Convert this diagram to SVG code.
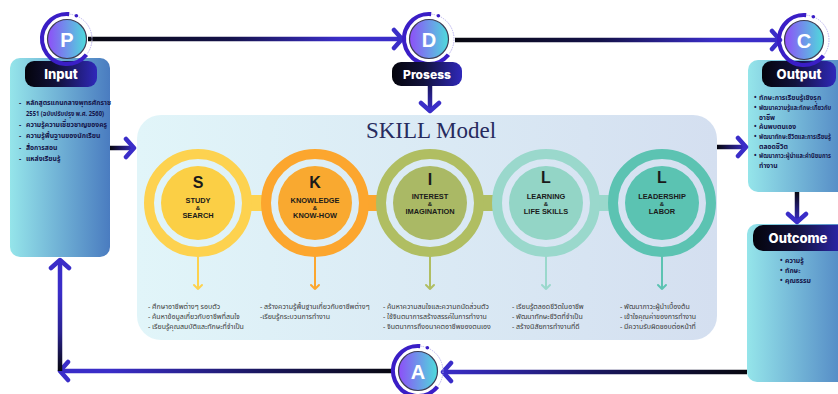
<svg xmlns="http://www.w3.org/2000/svg" xmlns:xlink="http://www.w3.org/1999/xlink" width="838" height="394" viewBox="0 0 838 394">
<defs>
<style>
.pillT{font-family:Inter,"Open Sans","Liberation Sans",sans-serif;font-weight:800;fill:#fff;text-anchor:middle}
.letter{font-family:"Liberation Sans",Arial,sans-serif;font-weight:700;fill:#fff;text-anchor:middle}
.sk{font-family:"Liberation Sans",Arial,sans-serif;font-weight:700;fill:#1a1a1a;text-anchor:middle}
.skL{font-size:16px}
.skS{font-size:7.4px}
.amp{font-size:6px}
.lst{font-family:"Noto Sans","Noto Sans Thai","Leelawadee UI",Tahoma,sans-serif;font-size:7px;fill:#3a3a3a}
.blst{font-family:"Noto Sans","Noto Sans Thai","Leelawadee UI",Tahoma,sans-serif;font-size:6.8px;font-weight:700;fill:#15154a}
.title{font-family:"Liberation Serif","Times New Roman",serif;font-size:23px;fill:#272b5e;text-anchor:middle}
.con{fill:none;stroke-width:4.5;stroke-linecap:butt}
</style>
<linearGradient id="boxGrad" x1="0" y1="0" x2="1" y2="0">
<stop offset="0" stop-color="#95e5ea"/><stop offset="1" stop-color="#4a7cc0"/>
</linearGradient>
<linearGradient id="pillGrad" x1="0" y1="0" x2="1" y2="0">
<stop offset="0" stop-color="#04040c"/><stop offset="0.45" stop-color="#12123c"/><stop offset="1" stop-color="#2f28ba"/>
</linearGradient>
<linearGradient id="circGrad" x1="0" y1="0" x2="1" y2="0">
<stop offset="0" stop-color="#8e4ef8"/><stop offset="1" stop-color="#4edcdb"/>
</linearGradient>
<linearGradient id="panelGrad" x1="0" y1="0" x2="1" y2="0">
<stop offset="0" stop-color="#e1f5f9"/><stop offset="1" stop-color="#d4dff0"/>
</linearGradient>
<linearGradient id="g1" gradientUnits="userSpaceOnUse" x1="88" y1="0" x2="402" y2="0">
<stop offset="0" stop-color="#07070f"/><stop offset="0.45" stop-color="#14124a"/><stop offset="0.8" stop-color="#3a2dc8"/>
</linearGradient>
<linearGradient id="g2" gradientUnits="userSpaceOnUse" x1="455" y1="0" x2="780" y2="0">
<stop offset="0" stop-color="#07070f"/><stop offset="0.45" stop-color="#14124a"/><stop offset="0.8" stop-color="#3a2dc8"/>
</linearGradient>
<linearGradient id="g3" gradientUnits="userSpaceOnUse" x1="0" y1="86" x2="0" y2="112">
<stop offset="0" stop-color="#1a1760"/><stop offset="1" stop-color="#3a2dc8"/>
</linearGradient>
<linearGradient id="g4" gradientUnits="userSpaceOnUse" x1="110" y1="0" x2="134" y2="0">
<stop offset="0" stop-color="#07070f"/><stop offset="1" stop-color="#3a2dc8"/>
</linearGradient>
<linearGradient id="g5" gradientUnits="userSpaceOnUse" x1="717" y1="0" x2="746" y2="0">
<stop offset="0" stop-color="#07070f"/><stop offset="1" stop-color="#3a2dc8"/>
</linearGradient>
<linearGradient id="g6" gradientUnits="userSpaceOnUse" x1="0" y1="192" x2="0" y2="222">
<stop offset="0" stop-color="#07070f"/><stop offset="1" stop-color="#3a2dc8"/>
</linearGradient>
<linearGradient id="g7" gradientUnits="userSpaceOnUse" x1="747" y1="0" x2="443" y2="0">
<stop offset="0" stop-color="#07070f"/><stop offset="0.5" stop-color="#1a1760"/><stop offset="1" stop-color="#3a2dc8"/>
</linearGradient>
<linearGradient id="g8" gradientUnits="userSpaceOnUse" x1="394" y1="0" x2="60" y2="0">
<stop offset="0" stop-color="#07070f"/><stop offset="0.4" stop-color="#1a1760"/><stop offset="0.85" stop-color="#3a2dc8"/>
</linearGradient>
<linearGradient id="g9" gradientUnits="userSpaceOnUse" x1="0" y1="371" x2="0" y2="260">
<stop offset="0" stop-color="#07070f"/><stop offset="0.35" stop-color="#2a2290"/><stop offset="0.7" stop-color="#3a2dc8"/>
</linearGradient>
<marker id="ah" viewBox="-12 -12 16 24" refX="0" refY="0" markerWidth="16" markerHeight="24" markerUnits="userSpaceOnUse" orient="auto">
<path d="M-8,-9 L0,0 L-8,9" fill="none" stroke="#3a2dc8" stroke-width="4.5" stroke-linecap="round" stroke-linejoin="round"/>
</marker>
<g id="ring">
<path d="M2.18,-24.9 A25,25 0 1 0 19.43,15.73" fill="none" stroke="#3a1ec6" stroke-width="4.2"/>
<path d="M2.18,-24.9 A25,25 0 0 1 19.43,15.73" fill="none" stroke="#b9b2ee" stroke-width="1" stroke-dasharray="1.5 1"/>
<circle cx="9.37" cy="-23.18" r="1.8" fill="#3a1ec6"/>
<circle r="19.5" fill="url(#circGrad)" stroke="#3d3d55" stroke-width="1.2"/>
</g>
</defs>

<!-- boxes -->
<g id="input">
<rect x="10" y="58" width="100" height="199" rx="10" fill="url(#boxGrad)"/>
<rect x="25" y="61" width="72" height="26" rx="9" fill="url(#pillGrad)"/>
<text class="pillT" x="61" y="79" font-size="13">Input</text>
<g class="blst">
<text x="19" y="105">-</text><text x="26" y="105">หลักสูตรแกนกลางพุทธศักราช</text>
<text x="26" y="115.5" textLength="78" lengthAdjust="spacingAndGlyphs">2551 (ฉบับปรับปรุง พ.ศ. 2560)</text>
<text x="19" y="126.5">-</text><text x="26" y="126.5">ความรู้ความเชี่ยวชาญของครู</text>
<text x="19" y="138">-</text><text x="26" y="138">ความรู้พื้นฐานของนักเรียน</text>
<text x="19" y="149.5">-</text><text x="26" y="149.5">สื่อการสอน</text>
<text x="19" y="161">-</text><text x="26" y="161">แหล่งเรียนรู้</text>
</g>
</g>

<g id="output">
<rect x="748" y="60" width="110" height="132" rx="10" fill="url(#boxGrad)"/>
<rect x="762" y="61" width="74" height="26" rx="9" fill="url(#pillGrad)"/>
<text class="pillT" x="799" y="79" font-size="13">Output</text>
<g class="blst" font-size="5.8">
<text x="754" y="100">•</text><text x="759" y="100">ทักษะการเรียนรู้เชิงรุก</text>
<text x="754" y="110">•</text><text x="759" y="110" textLength="72" lengthAdjust="spacingAndGlyphs">พัฒนาความรู้และทักษะเกี่ยวกับ</text>
<text x="759" y="119.5">อาชีพ</text>
<text x="754" y="129">•</text><text x="759" y="129">ค้นพบตนเอง</text>
<text x="754" y="139">•</text><text x="759" y="139" textLength="72" lengthAdjust="spacingAndGlyphs">พัฒนาทักษะชีวิตและการเรียนรู้</text>
<text x="759" y="148.5">ตลอดชีวิต</text>
<text x="754" y="158">•</text><text x="759" y="158" textLength="72" lengthAdjust="spacingAndGlyphs">พัฒนาภาวะผู้นำและค่านิยมการ</text>
<text x="759" y="168">ทำงาน</text>
</g>
</g>

<g id="outcome">
<rect x="747" y="224" width="110" height="158" rx="10" fill="url(#boxGrad)"/>
<rect x="753" y="225" width="95" height="26" rx="10" fill="url(#pillGrad)"/>
<text class="pillT" x="798" y="243" font-size="13">Outcome</text>
<g class="blst" font-size="6">
<text x="780" y="263">•</text><text x="785" y="263">ความรู้</text>
<text x="780" y="273">•</text><text x="785" y="273">ทักษะ</text>
<text x="780" y="282.5">•</text><text x="785" y="282.5">คุณธรรม</text>
</g>
</g>

<!-- SKILL panel -->
<g id="skill-model">
<rect x="137" y="115" width="580" height="225" rx="24" fill="url(#panelGrad)"/>
<text class="title" x="431" y="138">SKILL Model</text>
</g>

<!-- connectors -->
<g id="connectors">
<path class="con" d="M88,39 H402" stroke="url(#g1)" marker-end="url(#ah)"/>
<path class="con" d="M455,40 H780" stroke="url(#g2)" marker-end="url(#ah)"/>
<path class="con" d="M430,86 V111" stroke="url(#g3)" marker-end="url(#ah)"/>
<path class="con" d="M110,148 H134" stroke="url(#g4)" marker-end="url(#ah)"/>
<path class="con" d="M717,147 H746" stroke="url(#g5)" marker-end="url(#ah)"/>
<path class="con" d="M797,192 V222" stroke="url(#g6)" marker-end="url(#ah)"/>
<path class="con" d="M747,372 H443" stroke="url(#g7)" marker-end="url(#ah)"/>
<path class="con" d="M394,371 H60" stroke="url(#g8)" marker-end="url(#ah)"/>
<path class="con" d="M60,371 V260" stroke="url(#g9)" marker-end="url(#ah)"/>
<rect x="250" y="195" width="14" height="16" fill="#fdd24f"/>
<rect x="366" y="195" width="14" height="16" fill="#fba62e"/>
<rect x="481" y="195" width="14" height="16" fill="#b0be62"/>
<rect x="597" y="195" width="14" height="16" fill="#9ad8cc"/>
</g>

<!-- PDCA nodes -->
<g id="node-P"><use href="#ring" x="67" y="39"/><text class="letter" x="67" y="46.5" font-size="20">P</text></g>
<g id="node-D"><use href="#ring" x="429" y="39"/><text class="letter" x="429" y="46.5" font-size="20">D</text></g>
<g id="node-C"><use href="#ring" x="804" y="40"/><text class="letter" x="804" y="47.5" font-size="20">C</text></g>
<g id="node-A"><use href="#ring" x="418" y="371"/><text class="letter" x="418" y="378.5" font-size="20">A</text></g>

<g id="prosess">
<rect x="392" y="62" width="70" height="24" rx="9" fill="url(#pillGrad)"/>
<text class="pillT" x="427" y="78.5" font-size="12">Prosess</text>
</g>

<!-- skill circles -->
<g id="skill-S">
<circle cx="198" cy="203" r="49" fill="none" stroke="#fdd24f" stroke-width="10"/>
<circle cx="198" cy="203" r="37" fill="#fbcf45"/>
<text class="sk skL" x="198" y="187.5">S</text>
<text class="sk skS" x="198" y="202.5">STUDY</text>
<text class="sk amp" x="198" y="209.5">&amp;</text>
<text class="sk skS" x="198" y="217.5">SEARCH</text>
<path d="M198,257 V289 M194,285 L198,289 L202,285" fill="none" stroke="#fdd24f" stroke-width="2" stroke-linecap="round" stroke-linejoin="round"/>
<g class="lst"><text x="148" y="308.5">- ศึกษาอาชีพต่างๆ รอบตัว</text><text x="148" y="318.5">- ค้นหาข้อมูลเกี่ยวกับอาชีพที่สนใจ</text><text x="148" y="328.5">- เรียนรู้คุณสมบัติและทักษะที่จำเป็น</text></g>
</g>
<g id="skill-K">
<circle cx="315" cy="203" r="49" fill="none" stroke="#fca62e" stroke-width="10"/>
<circle cx="315" cy="203" r="37" fill="#f9a930"/>
<text class="sk skL" x="315" y="187.5">K</text>
<text class="sk skS" x="315" y="202.5">KNOWLEDGE</text>
<text class="sk amp" x="315" y="209.5">&amp;</text>
<text class="sk skS" x="315" y="217.5">KNOW-HOW</text>
<path d="M315,257 V289 M311,285 L315,289 L319,285" fill="none" stroke="#fca62e" stroke-width="2" stroke-linecap="round" stroke-linejoin="round"/>
<g class="lst"><text x="260" y="308.5">- สร้างความรู้พื้นฐานเกี่ยวกับอาชีพต่างๆ</text><text x="260" y="318.5">-เรียนรู้กระบวนการทำงาน</text></g>
</g>
<g id="skill-I">
<circle cx="430" cy="203" r="49" fill="none" stroke="#b0be62" stroke-width="10"/>
<circle cx="430" cy="203" r="37" fill="#aab965"/>
<text class="sk skL" x="430" y="184.5">I</text>
<text class="sk skS" x="430" y="198.5">INTEREST</text>
<text class="sk amp" x="430" y="205.5">&amp;</text>
<text class="sk skS" x="430" y="213.5">IMAGINATION</text>
<path d="M430,257 V289 M426,285 L430,289 L434,285" fill="none" stroke="#b0be62" stroke-width="2" stroke-linecap="round" stroke-linejoin="round"/>
<g class="lst"><text x="383" y="308.5">- ค้นหาความสนใจและความถนัดส่วนตัว</text><text x="383" y="318.5">- ใช้จินตนาการสร้างสรรค์ในการทำงาน</text><text x="383" y="328.5">- จินตนาการถึงอนาคตอาชีพของตนเอง</text></g>
</g>
<g id="skill-L1">
<circle cx="546" cy="203" r="49" fill="none" stroke="#9ad8cc" stroke-width="10"/>
<circle cx="546" cy="203" r="37" fill="#93d5c6"/>
<text class="sk skL" x="546" y="183">L</text>
<text class="sk skS" x="546" y="198.5">LEARNING</text>
<text class="sk amp" x="546" y="205.5">&amp;</text>
<text class="sk skS" x="546" y="213.5">LIFE SKILLS</text>
<path d="M546,257 V289 M542,285 L546,289 L550,285" fill="none" stroke="#9ad8cc" stroke-width="2" stroke-linecap="round" stroke-linejoin="round"/>
<g class="lst"><text x="512" y="308.5">- เรียนรู้ตลอดชีวิตในอาชีพ</text><text x="512" y="318.5">- พัฒนาทักษะชีวิตที่จำเป็น</text><text x="512" y="328.5">- สร้างนิสัยการทำงานที่ดี</text></g>
</g>
<g id="skill-L2">
<circle cx="662" cy="203" r="49" fill="none" stroke="#5cc3b2" stroke-width="10"/>
<circle cx="662" cy="203" r="37" fill="#5bc3b2"/>
<text class="sk skL" x="662" y="183">L</text>
<text class="sk skS" x="662" y="198.5">LEADERSHIP</text>
<text class="sk amp" x="662" y="205.5">&amp;</text>
<text class="sk skS" x="662" y="213.5">LABOR</text>
<path d="M662,257 V289 M658,285 L662,289 L666,285" fill="none" stroke="#5cc3b2" stroke-width="2" stroke-linecap="round" stroke-linejoin="round"/>
<g class="lst"><text x="620" y="308.5">- พัฒนาภาวะผู้นำเบื้องต้น</text><text x="620" y="318.5">- เข้าใจคุณค่าของการทำงาน</text><text x="620" y="328.5">- มีความรับผิดชอบต่อหน้าที่</text></g>
</g>
</svg>
